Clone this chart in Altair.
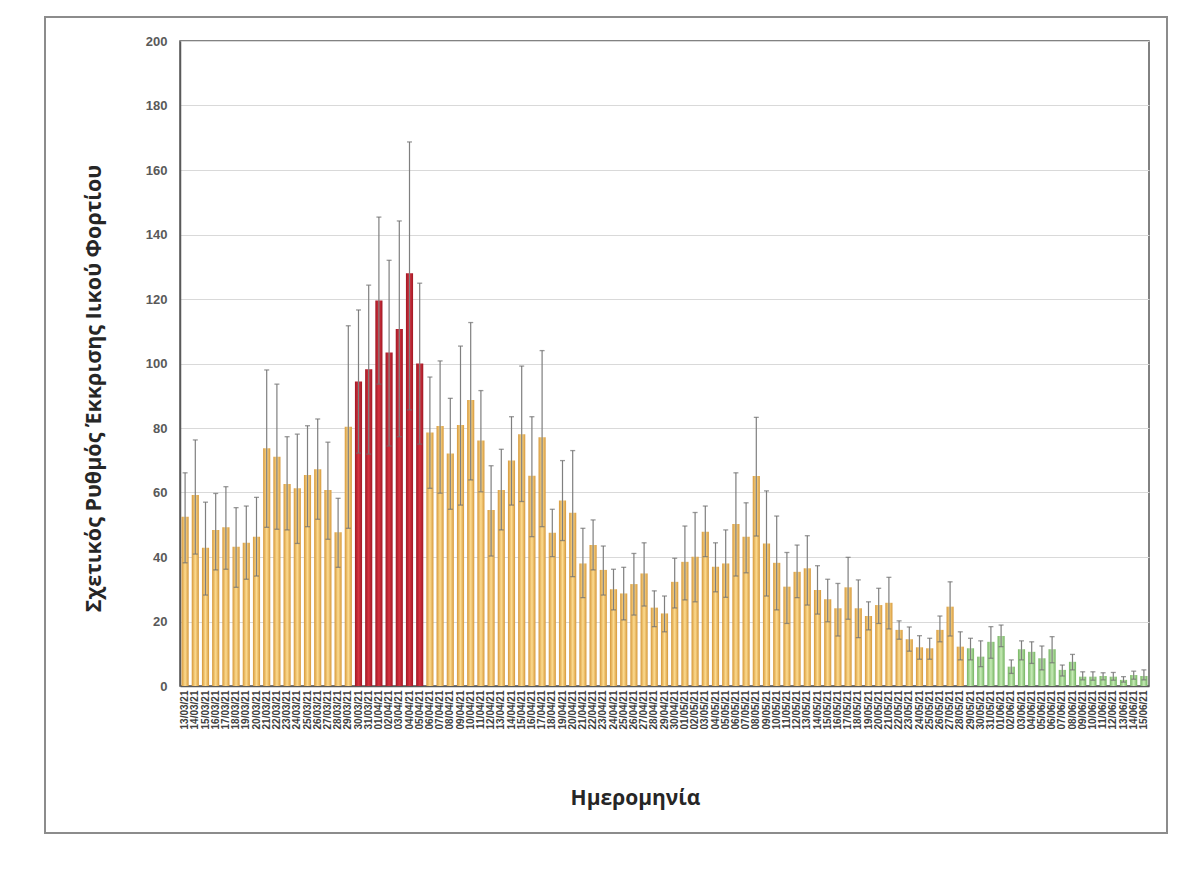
import altair as alt
import pandas as pd

# ---- data ----
dates = ([f"{d:02d}/03/21" for d in range(13, 32)]
         + [f"{d:02d}/04/21" for d in range(1, 31)]
         + [f"{d:02d}/05/21" for d in range(1, 32)]
         + [f"{d:02d}/06/21" for d in range(1, 16)])

values = [52.5, 59.2, 42.9, 48.4, 49.2, 43.2, 44.4, 46.3, 73.7, 71.1,
          62.6, 61.3, 65.4, 67.2, 60.8, 47.7, 80.4, 94.4, 98.2, 119.5,
          103.4, 110.7, 128.0, 100.0, 78.6, 80.6, 72.1, 80.9, 88.7, 76.1,
          54.6, 60.8, 69.9, 78.1, 65.2, 77.1, 47.5, 57.5, 53.7, 38.0,
          43.7, 36.0, 30.0, 28.7, 31.6, 34.9, 24.3, 22.5, 32.3, 38.5,
          40.1, 47.8, 37.0, 38.0, 50.2, 46.3, 65.1, 44.2, 38.2, 30.8,
          35.4, 36.5, 29.8, 26.9, 24.1, 30.6, 24.1, 21.7, 25.1, 25.8,
          17.4, 14.5, 12.0, 11.7, 17.4, 24.6, 12.2, 11.7, 9.1, 13.7,
          15.5, 6.0, 11.4, 10.6, 8.6, 11.4, 5.0, 7.5, 2.9, 2.9,
          3.1, 2.9, 1.9, 3.4, 3.1]

upper = [66.1, 76.3, 57.0, 59.7, 61.8, 55.3, 55.8, 58.5, 98.0, 93.6,
         77.3, 78.1, 80.7, 82.8, 75.6, 58.2, 111.7, 116.6, 124.3, 145.4,
         132.0, 144.2, 168.7, 124.9, 95.8, 100.8, 89.2, 105.4, 112.7, 91.6,
         68.3, 73.4, 83.5, 99.2, 83.5, 104.0, 54.8, 69.9, 73.0, 48.9,
         51.5, 43.4, 36.2, 36.8, 41.1, 44.4, 29.5, 27.9, 39.6, 49.6,
         53.8, 55.8, 44.4, 48.4, 66.1, 56.8, 83.3, 60.5, 52.7, 41.4,
         43.7, 46.6, 37.3, 33.1, 31.8, 39.9, 32.9, 26.1, 30.3, 33.7,
         20.2, 18.3, 15.6, 14.8, 21.7, 32.3, 16.8, 14.8, 14.0, 18.4,
         18.9, 8.1, 14.0, 13.7, 12.4, 15.3, 6.5, 9.8, 4.4, 4.4,
         4.1, 4.2, 2.9, 4.6, 5.0]

lower = [38.2, 40.9, 28.2, 36.0, 36.2, 30.6, 33.1, 34.1, 49.2, 48.6,
         48.4, 44.2, 49.4, 51.7, 45.5, 36.8, 48.9, 72.2, 71.9, 93.6,
         74.4, 77.3, 85.6, 75.0, 61.3, 59.8, 54.8, 56.1, 63.9, 60.2,
         40.3, 48.4, 56.1, 57.2, 46.3, 49.4, 40.1, 45.1, 33.9, 27.4,
         36.0, 28.2, 23.6, 20.5, 22.0, 24.8, 18.4, 16.8, 24.2, 26.7,
         26.1, 40.1, 29.2, 27.5, 34.1, 35.1, 46.5, 27.9, 23.6, 19.4,
         27.4, 25.1, 22.3, 19.9, 15.5, 20.7, 15.0, 17.4, 19.4, 17.7,
         14.5, 10.8, 8.3, 8.3, 13.7, 15.5, 8.1, 8.1, 6.0, 8.6,
         12.2, 3.9, 8.1, 7.0, 5.0, 7.2, 3.1, 5.0, 1.9, 1.8,
         1.9, 1.8, 1.2, 2.1, 1.9]

levels = ["orange"] * 17 + ["red"] * 7 + ["orange"] * 53 + ["green"] * 18

y_ticks = [0, 20, 40, 60, 80, 100, 120, 140, 160, 180, 200]

df = pd.DataFrame({"date": dates, "value": values, "hi": upper,
                   "lo": lower, "level": levels})

def grad(edge, center):
    return alt.Gradient(
        gradient="linear", x1=0, x2=1, y1=0, y2=0,
        stops=[alt.GradientStop(color=edge, offset=0),
               alt.GradientStop(color=center, offset=0.5),
               alt.GradientStop(color=edge, offset=1)])

fills = {
    "orange": grad("#D6983A", "#FCDB90"),
    "red": grad("#A01824", "#D53340"),
    "green": grad("#74B461", "#C6EAB6"),
}

x_enc = alt.X("date:O", sort=dates,
              scale=alt.Scale(paddingInner=0.3, paddingOuter=0.15),
              axis=alt.Axis(title="Ημερομηνία", labelAngle=270,
                            labelFontSize=10, labelFont="Liberation Sans",
                            labelFontWeight="bold", labelColor="#404040",
                            labelPadding=4, labelOverlap=False, ticks=False,
                            titleFontSize=21, titleFont="Open Sans",
                            titleFontWeight="bold", titleColor="#262626",
                            titleX=455, titleY=112, titleBaseline="middle",
                            titleAlign="center",
                            domainColor="#595959", domainWidth=1.5))

y_scale = alt.Scale(domain=[0, 200], nice=False)
y_axis = alt.Axis(title="Σχετικός Ρυθμός Έκκρισης Ιικού Φορτίου",
                  values=y_ticks, grid=True, gridColor="#D9D9D9",
                  ticks=False, labelPadding=13, labelFontSize=13,
                  labelFont="Liberation Sans", labelFontWeight="bold",
                  labelColor="#595959", titleFontSize=21.5,
                  titleFont="Open Sans", titleFontWeight="bold",
                  titleColor="#262626", titleX=-86, titleY=347,
                  titleAngle=270, titleBaseline="middle", titleAlign="center",
                  domainColor="#595959", domainWidth=1.5)

base = alt.Chart(df)

layers = []
for lvl in ["orange", "red", "green"]:
    layers.append(
        base.transform_filter(alt.datum.level == lvl)
        .mark_bar(color=fills[lvl])
        .encode(x=x_enc, y=alt.Y("value:Q", scale=y_scale, axis=y_axis))
    )

err = base.mark_rule(color="#7F7F7F", strokeWidth=1.2).encode(
    x=alt.X("date:O", sort=dates),
    y=alt.Y("lo:Q", scale=y_scale, axis=y_axis),
    y2="hi:Q")
cap_hi = base.mark_tick(color="#6F6F6F", size=5, thickness=1.3).encode(
    x=alt.X("date:O", sort=dates),
    y=alt.Y("hi:Q", scale=y_scale, axis=y_axis))
cap_lo = base.mark_tick(color="#6F6F6F", size=5, thickness=1.3).encode(
    x=alt.X("date:O", sort=dates),
    y=alt.Y("lo:Q", scale=y_scale, axis=y_axis))

frame = alt.Chart(pd.DataFrame({"f": [0]})).mark_rect(
    fillOpacity=0, stroke="#8C8C8C", strokeWidth=2).encode(
    x=alt.value(-135), x2=alt.value(987), y=alt.value(-24), y2=alt.value(792))

chart = alt.layer(*layers, err, cap_hi, cap_lo, frame).properties(
    width=969, height=645,
    background="white",
    autosize=alt.AutoSizeParams(type="none"),
    padding={"left": 172, "top": 33, "right": 43, "bottom": 177},
).configure_view(stroke="#595959", strokeWidth=1.5)

chart.save("out.html", embed_options={"renderer": "svg", "actions": False})
